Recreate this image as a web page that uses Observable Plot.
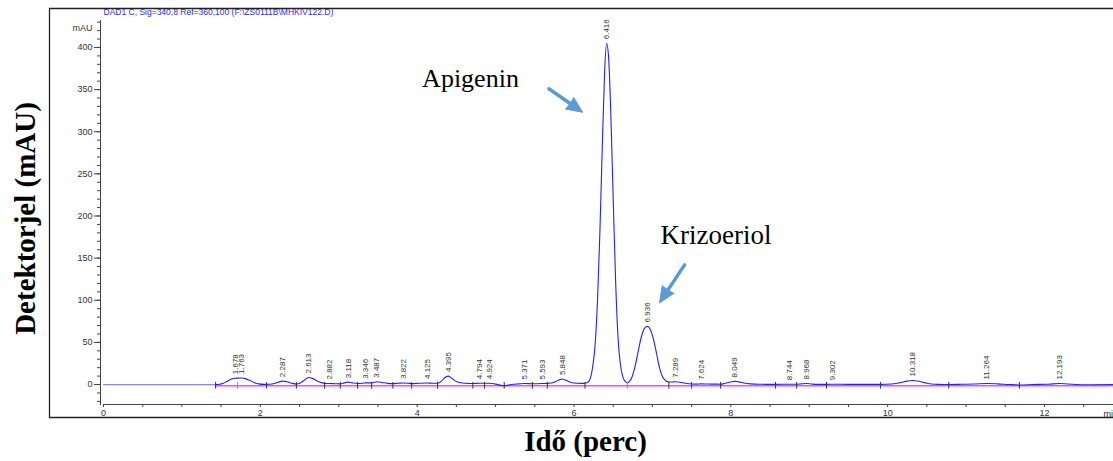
<!DOCTYPE html>
<html>
<head>
<meta charset="utf-8">
<script src="https://cdn.jsdelivr.net/npm/d3@7"></script>
<script src="https://cdn.jsdelivr.net/npm/@observablehq/plot@0.6"></script>
<style>
  body { margin: 0; background: #fff; overflow: hidden; }
</style>
</head>
<body>
<div id="chart"></div>
<script>
// DAD1 C chromatogram, 340 nm signal: retention time (min) vs. detector signal (mAU)
const trace = [
  [0, 0], [1.43, 0], [1.48, 0.3], [1.53, 1.5], [1.58, 4], [1.63, 6.5], [1.678, 7.5], [1.72, 7.6],
  [1.763, 7.8], [1.81, 7], [1.86, 5], [1.92, 2.5], [1.98, 0.8], [2.05, 0.2], [2.12, 0.3], [2.18, 1.2],
  [2.23, 2.8], [2.287, 4], [2.34, 3.3], [2.40, 1.5], [2.46, 0.5], [2.51, 1.8], [2.56, 5], [2.613, 8.3],
  [2.67, 7], [2.73, 4], [2.79, 2], [2.84, 1.2], [2.882, 1.2], [2.95, 1], [3.02, 0.8], [3.07, 2],
  [3.118, 2.8], [3.17, 2], [3.24, 1.2], [3.30, 1.5], [3.346, 2], [3.42, 2], [3.487, 3.3], [3.55, 2.5],
  [3.62, 1.4], [3.69, 1.1], [3.76, 1.5], [3.822, 1.8], [3.88, 1.6], [3.93, 1.1], [4.02, 1.5], [4.125, 1.8],
  [4.20, 1.6], [4.26, 1.5], [4.31, 4], [4.35, 8], [4.395, 10], [4.44, 7.5], [4.50, 3.5], [4.58, 1.8],
  [4.66, 1.3], [4.71, 1.2], [4.794, 1.6], [4.86, 1.5], [4.924, 1.5], [5.0, 0.5], [5.11, -1.5], [5.2, 0],
  [5.30, 0.8], [5.371, 1.2], [5.47, 1], [5.593, 1.2], [5.66, 1.4], [5.74, 2.5], [5.80, 5], [5.848, 6.5],
  [5.90, 5], [5.96, 2.5], [6.04, 1.5], [6.10, 1.4], [6.14, 1.6], [6.18, 3], [6.21, 8], [6.24, 22],
  [6.27, 48], [6.30, 100], [6.33, 180], [6.36, 280], [6.39, 370], [6.416, 405], [6.44, 390], [6.47, 320],
  [6.50, 220], [6.53, 125], [6.56, 58], [6.59, 25], [6.62, 10], [6.65, 4], [6.68, 2.2], [6.71, 4],
  [6.74, 9], [6.78, 22], [6.82, 40], [6.86, 57], [6.90, 67], [6.936, 69], [6.97, 66], [7.01, 55],
  [7.05, 38], [7.09, 20], [7.13, 9], [7.17, 4.5], [7.21, 3], [7.25, 3], [7.289, 3.3], [7.35, 2.8],
  [7.42, 1.5], [7.50, 0.6], [7.56, 0.5], [7.624, 0.8], [7.70, 0.6], [7.80, 0.5], [7.87, 0.4], [7.93, 1.5],
  [8.0, 3], [8.049, 3.7], [8.10, 3.2], [8.17, 1.8], [8.25, 0.8], [8.35, 0.3], [8.57, 0.2], [8.744, 0.4],
  [8.84, 0.3], [8.90, 0.8], [8.968, 1.2], [9.03, 0.6], [9.10, 0.2], [9.22, 0.2], [9.302, 0.3], [9.5, 0.2],
  [9.91, 0.2], [10.05, 0.6], [10.15, 2], [10.25, 4], [10.318, 4.8], [10.38, 4.2], [10.47, 2.3], [10.56, 0.7],
  [10.65, 0.2], [10.78, 0], [10.95, 0.3], [11.1, 0.6], [11.264, 1.2], [11.40, 0.8], [11.55, 0], [11.68, -0.5],
  [11.85, 0], [12.05, 0.4], [12.193, 1.2], [12.30, 0.6], [12.5, -0.3], [12.88, 0]
];

// Integrated peaks: retention times and apex heights
const peakTimes = [1.678, 1.763, 2.287, 2.613, 2.882, 3.118, 3.346, 3.487, 3.822, 4.125, 4.395, 4.794, 4.924,
  5.371, 5.593, 5.848, 6.416, 6.936, 7.289, 7.624, 8.049, 8.744, 8.968, 9.302, 10.318, 11.264, 12.193];
const peakHeights = [7.5, 7.8, 4, 8.3, 1.2, 2.8, 2, 3.3, 1.8, 1.8, 10, 1.6, 1.5,
  1.2, 1.2, 6.5, 405, 69, 3.3, 0.8, 3.7, 0.4, 1.2, 0.3, 4.8, 1.2, 1.2];

// Integration baseline and its boundary markers (min)
const baseline = [[1.43, -1.5], [12.88, -1.5]];
const boundaries = [1.43, 2.08, 2.46, 2.82, 3.02, 3.24, 3.42, 3.69, 3.93, 4.26, 4.71, 4.86, 5.11, 5.47,
  5.66, 6.14, 7.21, 7.50, 7.87, 8.57, 8.84, 9.22, 9.91, 10.78, 11.68];
const splitMarks = [1.71, 6.68];

// Axis ticks
const xTicks = d3.range(0, 12.9, 0.5);
const yMajor = d3.range(0, 401, 50);
const yMinor = d3.range(-20, 431, 10);

const peaks = peakTimes.map((rt, i) => ({rt, h: peakHeights[i]}));
const serif = "'Times New Roman', 'Liberation Serif', serif";
const arrowBlue = "#5b9bd5";
const trace1 = trace.filter(d => d[0] <= 1.43);
const trace2 = trace.filter(d => d[0] >= 1.43);

const chart = Plot.plot({
  width: 1113,
  height: 461,
  marginLeft: 103,
  marginRight: 0,
  marginTop: 20,
  marginBottom: 57,
  x: {domain: [0, 12.88]},
  y: {domain: [-23.7, 432]},
  style: {fontFamily: "Arial, 'Liberation Sans', sans-serif", fontSize: "9px", color: "#333", background: "#fff", overflow: "hidden"},
  marks: [
    // axes
    Plot.frame({anchor: "left", dx: -3, stroke: "#444"}),
    Plot.frame({anchor: "bottom", stroke: "#444"}),
    Plot.axisY({ticks: yMinor, tickSize: 3, tickFormat: () => "", label: null, dx: -3, stroke: "#444"}),
    Plot.axisY({ticks: yMajor, tickSize: 6, tickPadding: 2, label: null, dx: -3, stroke: "#444", fill: "#333", fontSize: 9}),
    Plot.axisX({ticks: xTicks, tickSize: 3, tickPadding: 2, label: null, stroke: "#444", fill: "#333", fontSize: 9,
      tickFormat: d => (d % 2 === 0 ? String(d) : "")}),
    Plot.text(["mAU"], {frameAnchor: "top-left", dx: -11, dy: 8, textAnchor: "end", lineAnchor: "middle", fontSize: 9, fill: "#333"}),
    Plot.text(["min"], {frameAnchor: "bottom-right", dx: -10, dy: 10, textAnchor: "start", lineAnchor: "middle", fontSize: 9, fill: "#333"}),
    Plot.text(["DAD1 C, Sig=340,8 Ref=360,100 (F:\\ZS0111B\\MHKIV122.D)"],
      {frameAnchor: "top-left", dy: -8, textAnchor: "start", lineAnchor: "middle", fontSize: 8.5, fill: "#2a2aff"}),

    // integration baseline
    Plot.line(baseline, {x: d => d[0], y: d => d[1], stroke: "#ff44ff", strokeWidth: 1.5}),

    // signal
    Plot.line(trace1, {x: d => d[0], y: d => d[1], stroke: "#8585f5", strokeWidth: 1.2}),
    Plot.line(trace2, {x: d => d[0], y: d => d[1], stroke: "#2323ee", strokeWidth: 1.1, curve: "monotone-x"}),

    // boundary markers
    Plot.ruleX(boundaries, {x: d => d, y1: -5.5, y2: 2.5, stroke: "#333", strokeWidth: 1}),
    Plot.ruleX(splitMarks, {x: d => d, y1: -5.5, y2: 2.5, stroke: "#ff44ff", strokeWidth: 1}),

    // retention-time labels
    Plot.text(peaks, {x: "rt", y: "h", text: d => d.rt.toFixed(3), rotate: -90, textAnchor: "start",
      dy: -4, fontSize: 8, fill: "#333"}),

    // compound annotations
    Plot.text(["Apigenin"], {x: 4.68, y: 363, fontFamily: serif, fontSize: 26, fill: "#000"}),
    Plot.text(["Krizoeriol"], {x: 7.81, y: 177, fontFamily: serif, fontSize: 27, fill: "#000"}),
    Plot.arrow([{x1: 5.68, y1: 351, x2: 6.11, y2: 323}, {x1: 7.41, y1: 142, x2: 7.09, y2: 97}],
      {x1: "x1", y1: "y1", x2: "x2", y2: "y2", stroke: arrowBlue, strokeWidth: 3.5, headLength: 0, insetEnd: 11}),
    Plot.vector([{x: 6.11, y: 323, r: 125}], {x: "x", y: "y", rotate: "r", length: 16, r: 7,
      shape: "spike", anchor: "end", fill: arrowBlue, stroke: arrowBlue, strokeWidth: 1}),
    Plot.vector([{x: 7.09, y: 97, r: 213}], {x: "x", y: "y", rotate: "r", length: 16, r: 7,
      shape: "spike", anchor: "end", fill: arrowBlue, stroke: arrowBlue, strokeWidth: 1}),

    // axis titles
    Plot.text(["Detektorjel (mAU)"], {frameAnchor: "left", dx: -78, dy: 6, rotate: -90,
      textAnchor: "middle", lineAnchor: "middle",
      fontFamily: serif, fontWeight: "bold", fontSize: 29, fill: "#000"}),
    Plot.text(["Idő (perc)"], {frameAnchor: "bottom", dx: -23, dy: 37,
      textAnchor: "middle", lineAnchor: "middle",
      fontFamily: serif, fontWeight: "bold", fontSize: 29, fill: "#000"})
  ]
});

// chart border
d3.select(chart).append("path")
  .attr("d", "M1113,8.5H49.5V417.5H1113")
  .attr("fill", "none")
  .attr("stroke", "#222")
  .attr("stroke-width", 1.3);

document.getElementById("chart").append(chart);
</script>
</body>
</html>
